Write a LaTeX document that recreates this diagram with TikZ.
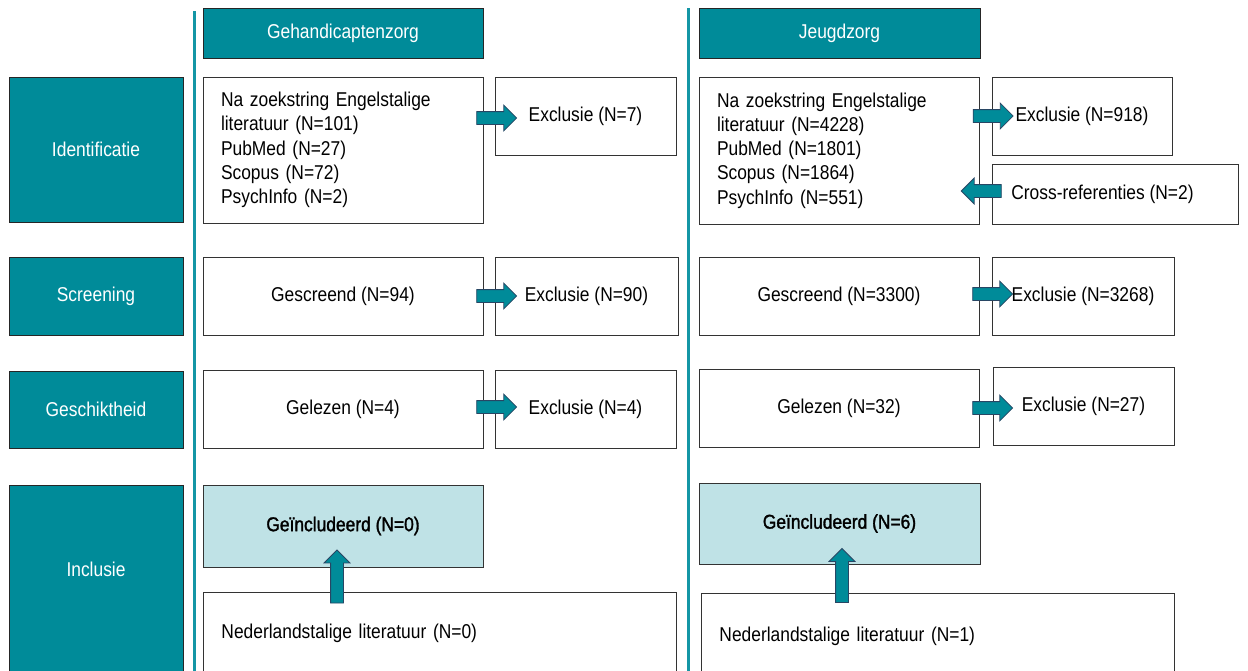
\documentclass[tikz,border=0pt]{standalone}
\usepackage{fontspec}
\setmainfont{Liberation Sans}[FakeStretch=0.87]
\newfontfamily\heavyfont{Liberation Sans}[FakeStretch=0.87,FakeBold=1.5]
\usetikzlibrary{shapes.arrows,calc}
\definecolor{teal1}{RGB}{0,139,153}
\definecolor{line1}{RGB}{20,150,165}
\definecolor{lblue}{RGB}{191,226,230}
\definecolor{navy1}{RGB}{40,70,100}
\begin{document}
\begin{tikzpicture}[x=1pt,y=-1pt,
  font=\fontsize{20}{24.25}\selectfont,
  box/.style={draw=black!80, line width=0.9pt, fill=white, inner sep=0pt, text=black},
  stage/.style={draw=black!85, line width=0.9pt, fill=teal1, text=white, inner sep=0pt},
  incl/.style={box, fill=lblue, font=\heavyfont\fontsize{20}{24.25}\selectfont},
  barrow/.style={single arrow, fill=teal1, draw=navy1, line width=0.8pt,
    single arrow head extend=6.5pt, inner xsep=0pt, inner ysep=6pt, minimum height=40pt},
  uarrow/.style={barrow, shape border rotate=90, inner xsep=6pt, inner ysep=0pt},
  vline/.style={draw=line1, line width=3pt}]
\useasboundingbox (0,0) rectangle (1248,670);
% column separators
\draw[vline] (194,11) -- (194,675);
\draw[vline] (688,8) -- (688,675);
% stages
\node[stage, minimum width=174, minimum height=145] (st1) at (96,149.5) {Identificatie};
\node[stage, minimum width=174, minimum height=78] (st2) at (96,296) {Screening};
\node[stage, minimum width=174, minimum height=77] (st3) at (96,409.5) {Geschiktheid};
\node[stage, minimum width=174, minimum height=200, anchor=north] (st4) at (96,485) {};
\node[text=white] (st4t) at (96,569) {Inclusie};
% headers
\node[stage, minimum width=280, minimum height=50] (h1) at (343,33) {Gehandicaptenzorg};
\node[stage, minimum width=281, minimum height=50] (h2) at (839.5,33) {Jeugdzorg};
% identification
\node[box, text width=244, inner xsep=18, align=left, minimum height=146] (a1) at (343,150)
  {Na zoekstring Engelstalige\\literatuur (N=101)\\PubMed (N=27)\\Scopus (N=72)\\PsychInfo (N=2)};
\node[box, minimum width=181, minimum height=78] (e1) at (585.5,116) {Exclusie (N=7)};
\node[box, text width=244, inner xsep=18, align=left, minimum height=147] (a2) at (839,150.5)
  {Na zoekstring Engelstalige\\literatuur (N=4228)\\PubMed (N=1801)\\Scopus (N=1864)\\PsychInfo (N=551)};
\node[box, minimum width=180, minimum height=78] (e2) at (1082,116) {Exclusie (N=918)};
\node[box, minimum width=246, minimum height=60] (c2) at (1115,194) {Cross-referenties (N=2)\hspace*{25pt}};
% screening
\node[box, minimum width=280, minimum height=78] (g1) at (343,296) {Gescreend (N=94)};
\node[box, minimum width=183, minimum height=78] (x1) at (586.5,296) {Exclusie (N=90)};
\node[box, minimum width=280, minimum height=78] (g2) at (839,296) {Gescreend (N=3300)};
\node[box, minimum width=182, minimum height=78] (x2) at (1083,296) {Exclusie (N=3268)};
% eligibility
\node[box, minimum width=280, minimum height=78] (l1) at (343,409) {Gelezen (N=4)};
\node[box, minimum width=181, minimum height=78] (y1) at (585.5,409) {Exclusie (N=4)};
\node[box, minimum width=280, minimum height=78] (l2) at (839,408) {Gelezen (N=32)};
\node[box, minimum width=181, minimum height=78] (y2) at (1083.5,406) {Exclusie (N=27)};
% inclusion
\node[incl, minimum width=280, minimum height=82] (i1) at (343,526) {Geïncludeerd (N=0)};
\node[incl, minimum width=281, minimum height=81] (i2) at (839.5,523.5) {Geïncludeerd (N=6)};
\node[box, anchor=north west, text width=437, inner xsep=18, align=left, minimum height=82] (n1) at (203,592)
  {Nederlandstalige literatuur (N=0)};
\node[box, anchor=north west, text width=437, inner xsep=18, align=left, minimum height=86] (n2) at (701,593)
  {Nederlandstalige literatuur (N=1)};
% block arrows
\node[barrow] (ar1) at ([xshift=10,yshift=-2]a1.east |- e1) {};
\node[barrow] (ar2) at ([xshift=10.5]a2.east |- e2) {};
\node[barrow, shape border rotate=180] (ar3) at ([xshift=5,yshift=3]a2.east |- c2) {};
\node[barrow] (ar4) at ([xshift=10]g1.east |- x1) {};
\node[barrow] (ar5) at ([xshift=10,yshift=2]g2.east |- x2) {};
\node[barrow] (ar6) at ([xshift=10,yshift=2]l1.east |- y1) {};
\node[barrow] (ar7) at ([xshift=10]l2.east) {};
\node[uarrow, minimum height=53pt] (ar8) at ([xshift=-6]$(i1.south)!0.5!(i1.south |- n1.north)$) {};
\node[uarrow, minimum height=54pt] (ar9) at ([xshift=2.5]$(i2.south)!0.5!(i2.south |- n2.north)$) {};
\end{tikzpicture}
\end{document}
